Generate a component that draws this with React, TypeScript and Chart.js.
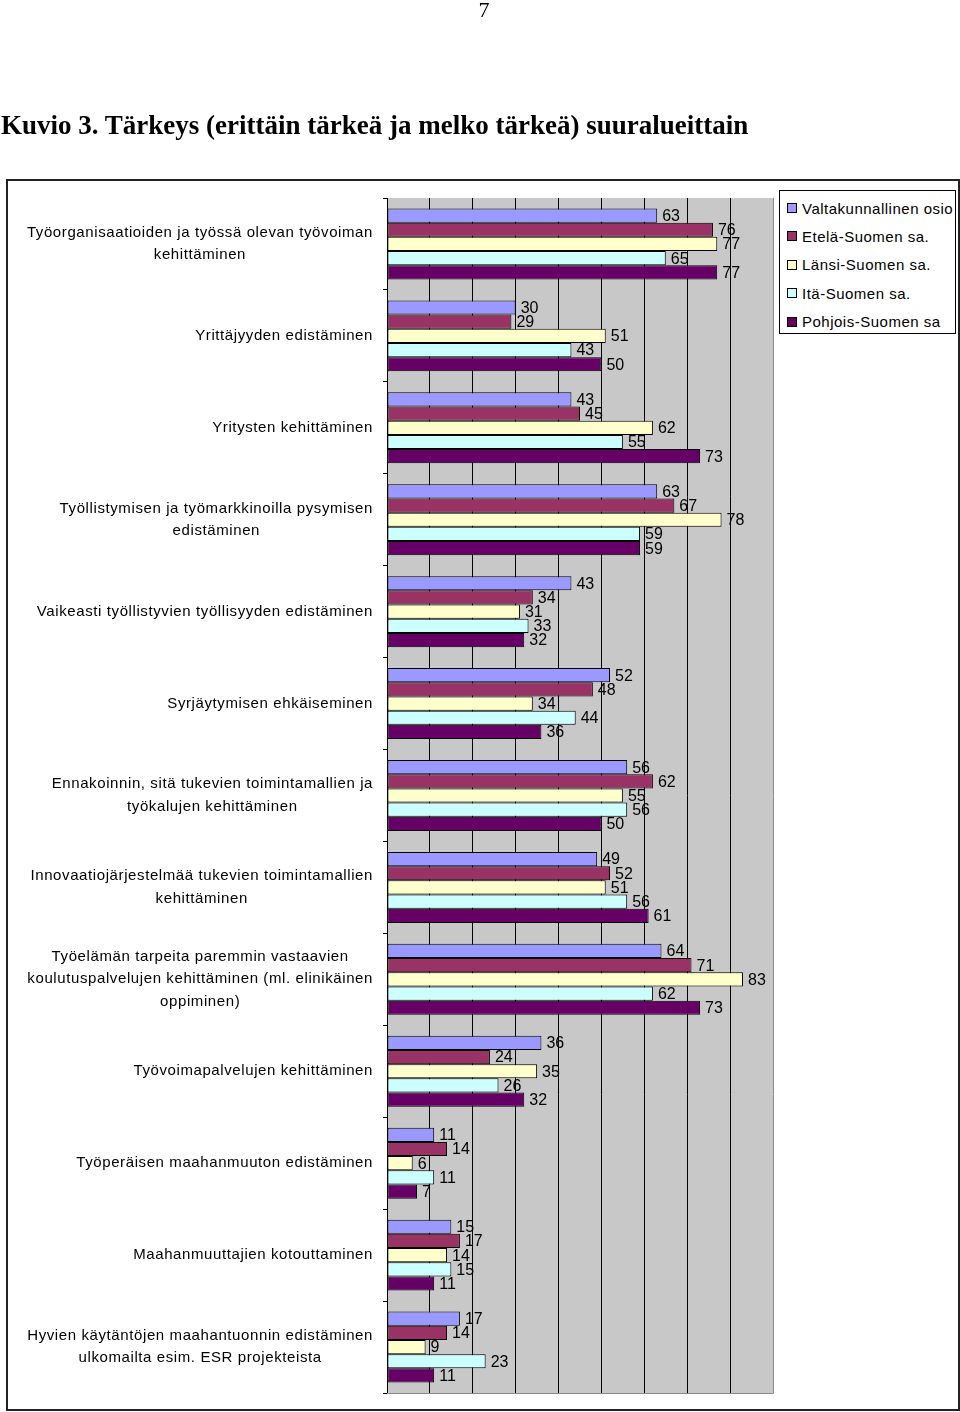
import React, { useEffect, useRef } from "react";
import { Chart, registerables } from "chart.js";

Chart.register(...registerables);

const categories: string[][] = [
  ["Työorganisaatioiden ja työssä olevan työvoiman", "kehittäminen"],
  ["Yrittäjyyden edistäminen"],
  ["Yritysten kehittäminen"],
  ["Työllistymisen ja työmarkkinoilla pysymisen", "edistäminen"],
  ["Vaikeasti työllistyvien työllisyyden edistäminen"],
  ["Syrjäytymisen ehkäiseminen"],
  ["Ennakoinnin, sitä tukevien toimintamallien ja", "työkalujen kehittäminen"],
  ["Innovaatiojärjestelmää tukevien toimintamallien", "kehittäminen"],
  ["Työelämän tarpeita paremmin vastaavien", "koulutuspalvelujen kehittäminen (ml. elinikäinen", "oppiminen)"],
  ["Työvoimapalvelujen kehittäminen"],
  ["Työperäisen maahanmuuton edistäminen"],
  ["Maahanmuuttajien kotouttaminen"],
  ["Hyvien käytäntöjen maahantuonnin edistäminen", "ulkomailta esim. ESR projekteista"],
];

const seriesNames = [
  "Valtakunnallinen osio",
  "Etelä-Suomen sa.",
  "Länsi-Suomen sa.",
  "Itä-Suomen sa.",
  "Pohjois-Suomen sa",
];

const valtakunnallinen = [63, 30, 43, 63, 43, 52, 56, 49, 64, 36, 11, 15, 17];
const etela = [76, 29, 45, 67, 34, 48, 62, 52, 71, 24, 14, 17, 14];
const lansi = [77, 51, 62, 78, 31, 34, 55, 51, 83, 35, 6, 14, 9];
const ita = [65, 43, 55, 59, 33, 44, 56, 56, 62, 26, 11, 15, 23];
const pohjois = [77, 50, 73, 59, 32, 36, 50, 61, 73, 32, 7, 11, 11];

const seriesColors = ["#9999ff", "#993366", "#ffffcc", "#ccffff", "#660066"];

const xMax = 90;
const xStep = 10;

const FONT = "'Liberation Sans', Arial, sans-serif";

const plotBg = {
  id: "plotBg",
  beforeDraw(chart: any) {
    const { ctx, chartArea: a } = chart;
    ctx.save();
    ctx.fillStyle = "#c8c8c8";
    ctx.fillRect(a.left, a.top, a.right - a.left, a.bottom - a.top);
    ctx.restore();
  },
  afterDatasetsDraw(chart: any) {
    const { ctx, chartArea: a } = chart;
    ctx.save();
    ctx.strokeStyle = "#8a8a8a";
    ctx.lineWidth = 1;
    ctx.beginPath();
    ctx.moveTo(a.right + 0.5, a.top);
    ctx.lineTo(a.right + 0.5, a.bottom + 0.5);
    ctx.lineTo(a.left, a.bottom + 0.5);
    ctx.stroke();
    ctx.restore();
  },
};

const valueLabels = {
  id: "valueLabels",
  afterDatasetsDraw(chart: any) {
    const { ctx } = chart;
    ctx.save();
    ctx.font = `16px ${FONT}`;
    ctx.fillStyle = "#000";
    ctx.textAlign = "left";
    ctx.textBaseline = "middle";
    chart.data.datasets.forEach((ds: any, di: number) => {
      const meta = chart.getDatasetMeta(di);
      meta.data.forEach((el: any, i: number) => {
        ctx.fillText(String(ds.data[i]), el.x + 5, el.y + 1);
      });
    });
    ctx.restore();
  },
};

const categoryLabels = {
  id: "categoryLabels",
  afterDraw(chart: any) {
    const { ctx } = chart;
    const yScale = chart.scales.y;
    const right = chart.chartArea.left - 14;
    const lh = 22.5;
    ctx.save();
    ctx.font = `15px ${FONT}`;
    (ctx as any).letterSpacing = "0.6px";
    ctx.fillStyle = "#000";
    ctx.textAlign = "center";
    ctx.textBaseline = "middle";
    categories.forEach((lines, i) => {
      const y = yScale.getPixelForValue(i);
      const maxW = Math.max(...lines.map((l) => ctx.measureText(l).width));
      const cx = right - maxW / 2;
      const y0 = y - ((lines.length - 1) * lh) / 2;
      lines.forEach((l, k) => ctx.fillText(l, cx, y0 + k * lh));
    });
    ctx.restore();
  },
};

export default function App() {
  const ref = useRef<HTMLCanvasElement>(null);

  useEffect(() => {
    if (!ref.current) return;
    const values = [valtakunnallinen, etela, lansi, ita, pohjois];
    const chart = new Chart(ref.current, {
      type: "bar",
      data: {
        labels: categories.map((c) => c.join(" ")),
        datasets: seriesNames.map((name, i) => ({
          label: name,
          data: values[i],
          backgroundColor: seriesColors[i],
          borderColor: "#000",
          borderWidth: 1,
          borderSkipped: false,
          barPercentage: 1,
          categoryPercentage: 0.772,
        })),
      },
      options: {
        indexAxis: "y",
        responsive: false,
        animation: false,
        events: [],
        layout: { padding: { left: 0, top: 198, right: 187, bottom: 19 } },
        plugins: {
          legend: { display: false },
          tooltip: { enabled: false },
          title: { display: false },
        },
        scales: {
          x: {
            min: 0,
            max: xMax,
            ticks: { display: false, stepSize: xStep },
            border: { display: false },
            grid: {
              drawTicks: false,
              lineWidth: 1,
              color: (c: any) => (c.tick && c.tick.value === xMax ? "rgba(0,0,0,0)" : "#000"),
            },
            afterFit: (s: any) => {
              s.height = 0;
            },
          },
          y: {
            ticks: { display: false },
            border: { display: true, color: "#000", width: 1 },
            grid: {
              offset: true,
              drawOnChartArea: false,
              drawTicks: true,
              tickLength: 4,
              color: "#000",
            },
            afterFit: (s: any) => {
              s.width = 387;
            },
          },
        },
      },
      plugins: [plotBg, valueLabels, categoryLabels],
    });
    return () => chart.destroy();
  }, []);

  return (
    <div style={{ position: "absolute", left: 0, top: 0, width: 960, height: 1412, background: "#fff" }}>
      <canvas ref={ref} width={960} height={1412} style={{ position: "absolute", left: 0, top: 0, width: 960, height: 1412 }} />
      <div
        style={{
          position: "absolute",
          left: 0,
          top: -3,
          width: 968,
          textAlign: "center",
          font: "22px 'Liberation Serif', 'Times New Roman', serif",
        }}
      >
        7
      </div>
      <div
        style={{
          position: "absolute",
          left: 1,
          top: 110,
          whiteSpace: "nowrap",
          font: "bold 27px 'Liberation Serif', 'Times New Roman', serif",
        }}
      >
        Kuvio 3. Tärkeys (erittäin tärkeä ja melko tärkeä) suuralueittain
      </div>
      <div
        style={{
          position: "absolute",
          left: 6,
          top: 179,
          width: 950,
          height: 1228,
          border: "2px solid #222",
          boxSizing: "content-box",
          pointerEvents: "none",
        }}
      />
      <div
        style={{
          position: "absolute",
          left: 779,
          top: 190,
          width: 177,
          height: 144,
          border: "1px solid #000",
          background: "#fff",
          boxSizing: "border-box",
        }}
      >
        {seriesNames.map((n, i) => (
          <div
            key={n}
            style={{
              position: "absolute",
              left: 7,
              top: 8 + i * 28.4,
              height: 18,
              display: "flex",
              alignItems: "center",
              whiteSpace: "nowrap",
              letterSpacing: "0.5px",
              font: `15px ${FONT}`,
            }}
          >
            <span
              style={{
                display: "inline-block",
                width: 10,
                height: 10,
                border: "1px solid #000",
                background: seriesColors[i],
                marginRight: 5,
                boxSizing: "border-box",
              }}
            />
            {n}
          </div>
        ))}
      </div>
    </div>
  );
}
